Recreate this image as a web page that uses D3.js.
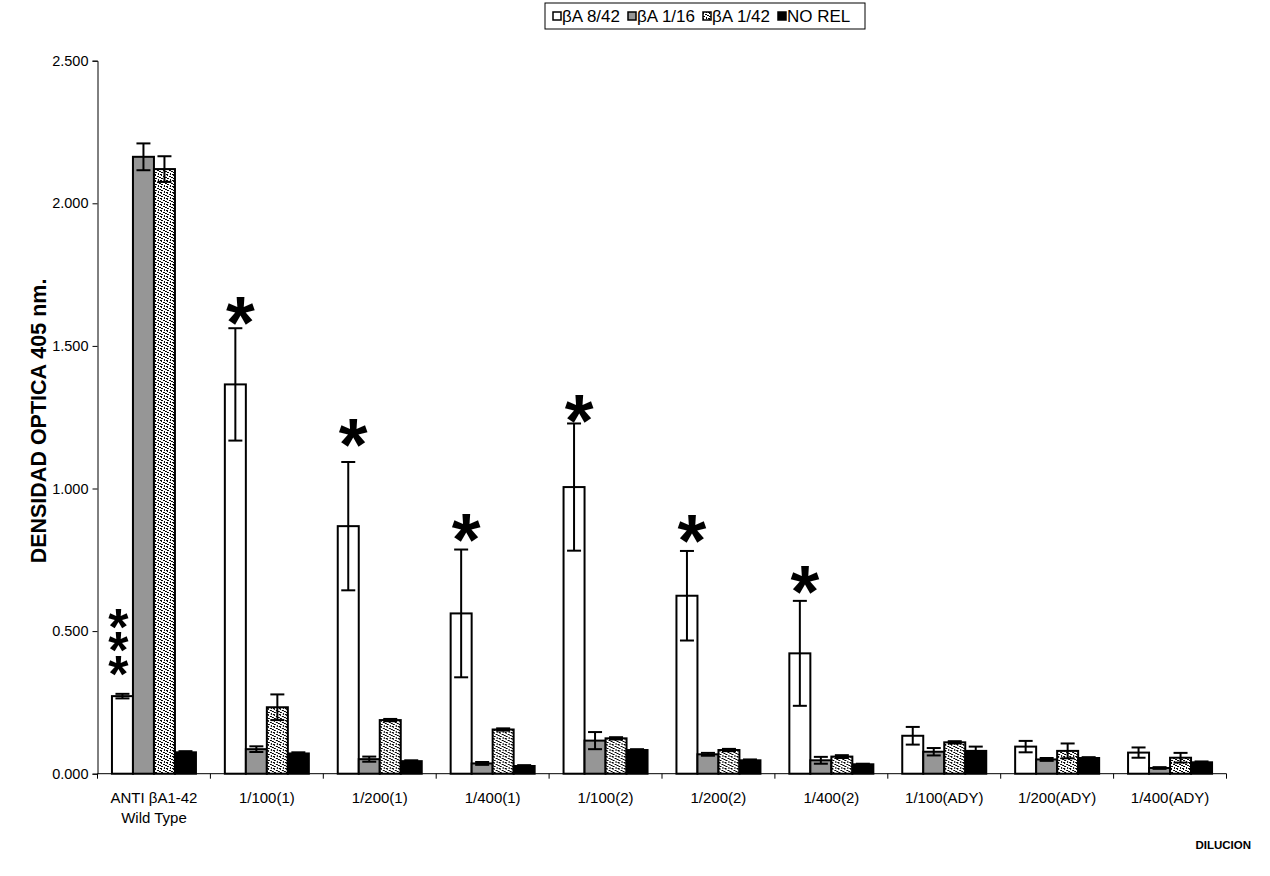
<!DOCTYPE html>
<html>
<head>
<meta charset="utf-8">
<script src="https://cdn.jsdelivr.net/npm/d3@7/dist/d3.min.js"></script>
<style>
  html, body { margin: 0; padding: 0; background: #fff; }
  svg { display: block; font-family: "Liberation Sans", Arial, sans-serif; }
</style>
</head>
<body>
<svg id="chart" width="1270" height="876"></svg>
<script>
// Dilution groups (x axis), one label line per entry
const categories = ["ANTI βA1-42|Wild Type", "1/100(1)", "1/200(1)", "1/400(1)", "1/100(2)",
                    "1/200(2)", "1/400(2)", "1/100(ADY)", "1/200(ADY)", "1/400(ADY)"];

// Series names shown in the legend
const seriesNames = ["βA 8/42", "βA 1/16", "βA 1/42", "NO REL"];

// Mean optical density at 405 nm for each series
const valsBA842 = [0.272, 1.365, 0.868, 0.562, 1.005, 0.624, 0.422, 0.133, 0.095, 0.074];
const valsBA116 = [2.163, 0.086, 0.051, 0.036, 0.116, 0.068, 0.047, 0.077, 0.050, 0.020];
const valsBA142 = [2.120, 0.233, 0.188, 0.155, 0.124, 0.083, 0.060, 0.110, 0.080, 0.056];
const valsNoRel = [0.075, 0.071, 0.044, 0.027, 0.083, 0.047, 0.033, 0.080, 0.055, 0.040];

// Standard deviation (error bar half-length) for each series
const errBA842 = [0.008, 0.197, 0.225, 0.224, 0.223, 0.157, 0.184, 0.031, 0.020, 0.018];
const errBA116 = [0.047, 0.010, 0.009, 0.005, 0.030, 0.005, 0.012, 0.013, 0.005, 0.003];
const errBA142 = [0.045, 0.045, 0.004, 0.004, 0.004, 0.004, 0.005, 0.004, 0.026, 0.017];
const errNoRel = [0.004, 0.004, 0.003, 0.003, 0.003, 0.003, 0.002, 0.015, 0.003, 0.003];

// Significance marks over the βA 8/42 bar: count of asterisks and level of the top one
const starCounts = [3, 1, 1, 1, 1, 1, 1, 0, 0, 0];
const starLevels = [0.556, 1.642, 1.214, 0.879, 1.296, 0.876, 0.698, 0, 0, 0];

// Y axis ticks
const yTicks = [0, 0.5, 1.0, 1.5, 2.0, 2.5];

const series = [
  { name: seriesNames[0], values: valsBA842, errors: errBA842, fill: "#ffffff" },
  { name: seriesNames[1], values: valsBA116, errors: errBA116, fill: "#969696" },
  { name: seriesNames[2], values: valsBA142, errors: errBA142, fill: "url(#dots)" },
  { name: seriesNames[3], values: valsNoRel, errors: errNoRel, fill: "#000000" }
];

const svg = d3.select("#chart");

// Speckled fill for the βA 1/42 series (6x6 tile of black specks on white)
const defs = svg.append("defs");
const pat = defs.append("pattern")
  .attr("id", "dots").attr("patternUnits", "userSpaceOnUse")
  .attr("width", 6).attr("height", 6);
pat.append("rect").attr("width", 6).attr("height", 6).attr("fill", "#fff");
const speck = [
  "##..#.",
  ".#....",
  "...##.",
  "#....#",
  ".##...",
  "....#."
];
speck.forEach((row, py) => row.split("").forEach((c, px) => {
  if (c === "#") pat.append("rect").attr("x", px).attr("y", py)
    .attr("width", 1).attr("height", 1).attr("fill", "#000");
}));

const plotLeft = 97.5, plotRight = 1226.5, plotTop = 60.7, plotBottom = 773.7;

const y = d3.scaleLinear().domain([0, 2.5]).range([plotBottom, plotTop]);
const x = d3.scaleBand().domain(categories).range([plotLeft, plotRight])
  .paddingInner(0.256).paddingOuter(0.128);
const xs = d3.scaleBand().domain(seriesNames).range([0, x.bandwidth()]).padding(0);

// Y axis
const yAxis = svg.append("g").attr("transform", `translate(${plotLeft},0)`)
  .call(d3.axisLeft(y).tickValues(yTicks).tickFormat(d3.format(".3f")).tickSizeOuter(0).tickSize(5).tickPadding(4));
yAxis.select(".domain").attr("stroke", "#000");
yAxis.selectAll(".tick line").attr("stroke", "#000");
yAxis.selectAll(".tick text").attr("font-size", 14.5).attr("fill", "#000")
  .attr("font-family", "'Liberation Sans', Arial, sans-serif");

// Bars
const groups = svg.append("g").selectAll("g").data(categories).join("g")
  .attr("transform", d => `translate(${x(d)},0)`);

series.forEach(s => {
  groups.append("rect")
    .attr("x", xs(s.name))
    .attr("y", (d, i) => y(s.values[i]))
    .attr("width", xs.bandwidth())
    .attr("height", (d, i) => y(0) - y(s.values[i]))
    .attr("fill", s.fill)
    .attr("stroke", "#000")
    .attr("stroke-width", 2);
});

// Error bars
const capW = 14;
series.forEach(s => {
  const cx = xs(s.name) + xs.bandwidth() / 2;
  const eb = groups.append("g").attr("stroke", "#000").attr("stroke-width", 2);
  eb.append("line").attr("x1", cx).attr("x2", cx)
    .attr("y1", (d, i) => y(s.values[i] + s.errors[i]))
    .attr("y2", (d, i) => y(s.values[i] - s.errors[i]));
  eb.append("line").attr("x1", cx - capW / 2).attr("x2", cx + capW / 2)
    .attr("y1", (d, i) => y(s.values[i] + s.errors[i]))
    .attr("y2", (d, i) => y(s.values[i] + s.errors[i]));
  eb.append("line").attr("x1", cx - capW / 2).attr("x2", cx + capW / 2)
    .attr("y1", (d, i) => y(s.values[i] - s.errors[i]))
    .attr("y2", (d, i) => y(s.values[i] - s.errors[i]));
});

// Asterisks marking significant differences.
// A stack of several is one text run laid out downwards (text rotated 90°,
// each glyph rotated back upright), so the marks sit close together.
const starX = xs(seriesNames[0]) + xs.bandwidth() / 2;
groups.each(function(d, i) {
  const n = starCounts[i];
  if (!n) return;
  const g = d3.select(this);
  const cy0 = y(starLevels[i]);
  if (n === 1) {
    const fs = 74;
    g.append("text")
      .attr("x", starX + 5)
      .attr("y", cy0 + fs * 0.57)
      .attr("text-anchor", "middle")
      .attr("font-size", fs)
      .attr("font-weight", "bold")
      .attr("fill", "#000")
      .text("*");
  } else {
    const fs = 52, spacing = 23.5;
    const t = g.append("text")
      .attr("font-size", fs)
      .attr("font-weight", "bold")
      .attr("fill", "#000")
      .text("*".repeat(n));
    const adv = t.node().getComputedTextLength() / n;
    t.attr("letter-spacing", spacing - adv)
      .attr("rotate", Array(n).fill(-90).join(" "))
      .attr("transform", `translate(${starX - 4 - adv / 2},${cy0 + fs * 0.57}) rotate(90)`);
  }
});

// X axis line and tick marks at group boundaries
const step = x.step();
const bounds = categories.map(c => x(c) - step * x.paddingOuter()).concat([plotRight]);
svg.append("line").attr("x1", plotLeft).attr("x2", plotRight).attr("y1", plotBottom).attr("y2", plotBottom)
  .attr("stroke", "#000").attr("stroke-width", 1);
svg.append("g").selectAll("line").data(bounds).join("line")
  .attr("x1", d => d).attr("x2", d => d).attr("y1", plotBottom).attr("y2", plotBottom + 5)
  .attr("stroke", "#000").attr("stroke-width", 1);

// Category labels
svg.append("g").selectAll("text").data(categories).join("text")
  .attr("x", d => x(d) + x.bandwidth() / 2)
  .attr("y", plotBottom + 29)
  .attr("text-anchor", "middle")
  .attr("font-size", 15)
  .attr("fill", "#000")
  .each(function(d) {
    d.split("|").forEach((line, k) => {
      d3.select(this).append("tspan")
        .attr("x", x(d) + x.bandwidth() / 2)
        .attr("dy", k === 0 ? 0 : 20)
        .text(line);
    });
  });

// Axis titles
svg.append("text")
  .attr("transform", `translate(46,421) rotate(-90)`)
  .attr("text-anchor", "middle")
  .attr("font-size", 21.5)
  .attr("font-weight", "bold")
  .attr("fill", "#000")
  .text("DENSIDAD OPTICA 405 nm.");

svg.append("text")
  .attr("x", 1251).attr("y", 849)
  .attr("text-anchor", "end")
  .attr("font-size", 11.5)
  .attr("font-weight", "bold")
  .attr("fill", "#000")
  .text("DILUCION");

// Legend
const legend = svg.append("g");
legend.append("rect")
  .attr("x", 545).attr("y", 3).attr("width", 320).attr("height", 26)
  .attr("fill", "#fff").attr("stroke", "#000").attr("stroke-width", 1);
let lx = 553;
series.forEach(s => {
  legend.append("rect").attr("x", lx).attr("y", 12).attr("width", 8).attr("height", 8)
    .attr("fill", s.fill).attr("stroke", "#000").attr("stroke-width", 1.5);
  const t = legend.append("text").attr("x", lx + 9).attr("y", 22)
    .attr("font-size", 17).attr("fill", "#000").text(s.name);
  lx += 9 + t.node().getComputedTextLength() + 8;
});
</script>
</body>
</html>
